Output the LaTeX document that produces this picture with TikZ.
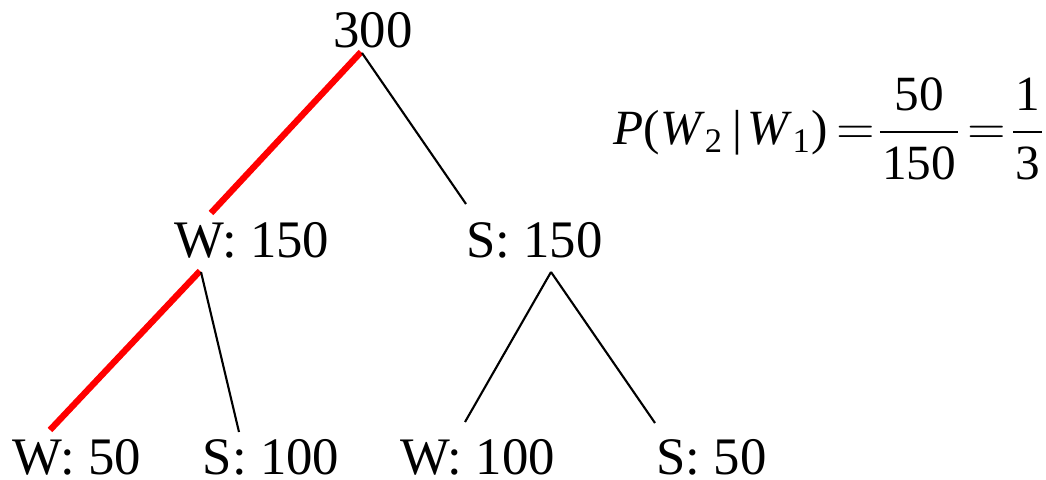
\documentclass[tikz,border=0pt]{standalone}
\usepackage{amsmath}
\usepackage{fontspec}
\setmainfont{Liberation Serif}
\usetikzlibrary{calc}

\begin{document}
\begin{tikzpicture}[x=0.01cm, y=-0.01cm,
  every node/.style={font=\fontsize{15}{18}\selectfont, inner sep=0pt, anchor=base},
  formula/.style={font=\fontsize{14}{17}\selectfont},
  edge/.style={draw=black, line width=0.6pt},
  chosen/.style={draw=red, line width=1.8pt}]
  \useasboundingbox (0,0) rectangle (1046,479);
  % counts, level by level
  \node (root) at (373,48) {300};
  \node (w150) at (252,257) {W: 150};
  \node (s150) at (534.5,257) {S: 150};
  \node (w50)  at (77,474)  {W: 50};
  \node (s100) at (271,474) {S: 100};
  \node (w100) at (477.5,474) {W: 100};
  \node (s50)  at (711.5,474) {S: 50};
  % conditional probability, piece by piece
  \node[formula, anchor=base west] (lhs) at (613,145)
    {\textit{P}(\textit{W}\textsubscript{2}\hspace{2.5pt}|\hspace{1.5pt}\textit{W}\textsubscript{1})};
  \node[formula] (eqa) at (856,144.5) {$=$};
  \node[formula] (fraca) at (919,144.5)
    {$\dfrac{\text{50}}{\makebox[7.8mm]{150}}$};
  \node[formula] (eqb) at (987,144.5) {$=$};
  \node[formula] (fracb) at (1027.5,144.5)
    {$\dfrac{\text{1}}{\makebox[2.9mm]{3}}$};
  % edges
  \draw[chosen] ($(root.base)+(-12,4)$) -- ($(w150.base)+(-41,-44)$);
  \draw[edge] ($(root.base)+(-11,5)$) -- ($(s150.base)+(-68.5,-53)$);
  \draw[chosen] ($(w150.base)+(-52,14)$) -- ($(w50.base)+(-27,-44)$);
  \draw[edge] ($(w150.base)+(-51,15)$) -- ($(s100.base)+(-32,-42)$);
  \draw[edge] ($(s150.base)+(16.5,15)$) -- ($(w100.base)+(-12.5,-52)$);
  \draw[edge] ($(s150.base)+(16.5,15)$) -- ($(s50.base)+(-56.5,-51)$);
\end{tikzpicture}
\end{document}
